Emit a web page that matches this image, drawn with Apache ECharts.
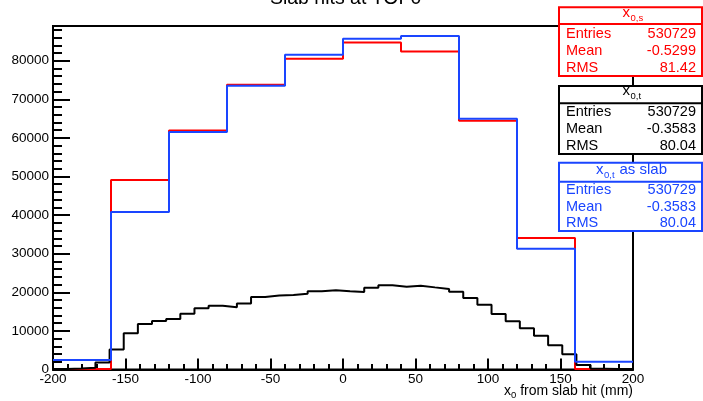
<!DOCTYPE html>
<html><head><meta charset="utf-8">
<script src="https://cdn.jsdelivr.net/npm/echarts@6/dist/echarts.min.js"></script>
<style>html,body{margin:0;padding:0;background:#fff}#c{width:703px;height:401px}</style>
</head><body><div id="c"></div>
<script>
// ---- data ----
const chartTitle = 'Slab hits at TOF0';
const coarseEdges = [-200, -160, -120, -80, -40, 0, 40, 80, 120, 160, 200];
const redValues  = [150, 49100, 61900, 73800, 80500, 84700, 82400, 64450, 34070, 150];
const blueValues = [2460, 40800, 61550, 73500, 81550, 85700, 86400, 64970, 31300, 2020];
const fineMin = -200, fineMax = 200, fineBinCount = 41;
const blackValues = [150, 250, 450, 1800, 5150, 9380, 11800, 12560, 13100, 14420,
  15850, 16530, 16100, 17100, 18800, 19200, 19300, 19640, 20250, 20510,
  20280, 20080, 21200, 21800, 21460, 21720, 21280, 20850, 20160, 18520,
  16800, 14380, 12480, 10670, 8760, 6260, 3930, 1170, 200, 150, 100];
const statLabels = ['Entries', 'Mean', 'RMS'];
const redStats   = ['530729', '-0.5299', '81.42'];
const blackStats = ['530729', '-0.3583', '80.04'];
const blueStats  = ['530729', '-0.3583', '80.04'];

// ---- build ----
const FONT = "'Liberation Sans', Arial, Helvetica, sans-serif";
const RED = '#ff0000', BLUE = '#1a45ff', BLACK = '#000000';
const fineEdges = Array.from({length: fineBinCount + 1}, (_, i) => fineMin + i * (fineMax - fineMin) / fineBinCount);
function stepData(edges, vals) {
  const d = vals.map((v, i) => [edges[i], v]);
  d.push([edges[edges.length - 1], vals[vals.length - 1]]);
  return d;
}
function txt(t, x, y, size, color, align) {
  return {type: 'text', x: x, y: y, z: 100,
    style: {text: t, fill: color, font: size + 'px ' + FONT, textAlign: align, textVerticalAlign: 'middle', align: align, verticalAlign: 'middle'}};
}
function box(color, top, bottom, divider, header, rowsY, vals) {
  const els = [];
  els.push({type: 'rect', z: 99, shape: {x: 559, y: top, width: 143, height: bottom - top},
    style: {fill: '#fff', stroke: color, lineWidth: 2}});
  els.push({type: 'line', z: 100, shape: {x1: 559, y1: divider, x2: 702, y2: divider},
    style: {stroke: color, lineWidth: 2}});
  header.forEach(h => els.push(txt(h[0], h[1], h[2], h[3], color, h[4])));
  statLabels.forEach((l, i) => {
    els.push(txt(l, 566, rowsY[i], 14.5, color, 'left'));
    els.push(txt(vals[i], 696, rowsY[i], 14.5, color, 'right'));
  });
  return els;
}
const graphics = [].concat(
  [txt(chartTitle, 345.6, -1.8, 19.5, BLACK, 'center')],
  box(RED, 7.3, 76, 24, [['x', 630, 12.9, 15, 'right'], ['0,s', 630.5, 18.4, 9.5, 'left']], [34.3, 51, 68.3], redStats),
  box(BLACK, 86, 154, 103.3, [['x', 630, 91.2, 15, 'right'], ['0,t', 630.5, 96.7, 9.5, 'left']], [111.7, 129.3, 146], blackStats),
  box(BLUE, 162.7, 231, 181.7, [['x', 603.5, 169.5, 15, 'right'], ['0,t', 604, 175, 9.5, 'left'], ['as slab', 619.5, 169.5, 15, 'left']], [190, 207.3, 223.3], blueStats),
  [
    {type: 'text', z: 100, x: 633, y: 392.5, style: {
      text: '{m|x}{s|0}{m| from slab hit (mm)}', fill: BLACK, textAlign: 'right', align: 'right', textVerticalAlign: 'middle', verticalAlign: 'middle',
      rich: {m: {fontSize: 14, fontFamily: FONT, fill: BLACK, lineHeight: 16, verticalAlign: 'top'},
             s: {fontSize: 9.5, fontFamily: FONT, fill: BLACK, lineHeight: 16, verticalAlign: 'top', padding: [6, 0, 0, 0]}}
    }}
  ]
);

const chart = echarts.init(document.getElementById('c'), null, {renderer: 'canvas'});
const tickStyle = {color: BLACK, width: 2};
chart.setOption({
  animation: false,
  backgroundColor: '#fff',
  grid: {left: 53, right: 70, top: 26, bottom: 31.5, show: true, borderColor: BLACK, borderWidth: 2, backgroundColor: 'transparent'},
  xAxis: {
    type: 'value', min: -200, max: 200, interval: 50,
    axisLine: {onZero: false, lineStyle: tickStyle},
    axisTick: {inside: true, length: 11, lineStyle: tickStyle},
    minorTick: {show: true, splitNumber: 5, length: 5.5, lineStyle: tickStyle},
    splitLine: {show: false},
    axisLabel: {color: BLACK, fontSize: 13.5, fontFamily: FONT, margin: 3, formatter: v => String(v)}
  },
  yAxis: {
    type: 'value', min: 0, max: 89000, interval: 10000,
    axisLine: {onZero: false, lineStyle: tickStyle},
    axisTick: {inside: true, length: 17, lineStyle: tickStyle},
    minorTick: {show: true, splitNumber: 5, length: 9, lineStyle: tickStyle},
    splitLine: {show: false},
    axisLabel: {color: BLACK, fontSize: 13.5, fontFamily: FONT, margin: 4, showMaxLabel: false, formatter: v => String(v)}
  },
  series: [
    {type: 'line', step: 'end', symbol: 'none', z: 2, data: stepData(coarseEdges, redValues), lineStyle: {color: RED, width: 2}, itemStyle: {color: RED}},
    {type: 'line', step: 'end', symbol: 'none', z: 3, data: stepData(fineEdges, blackValues), lineStyle: {color: BLACK, width: 2}, itemStyle: {color: BLACK}},
    {type: 'line', step: 'end', symbol: 'none', z: 4, data: stepData(coarseEdges, blueValues), lineStyle: {color: BLUE, width: 2}, itemStyle: {color: BLUE}}
  ],
  graphic: graphics
});
</script></body></html>
